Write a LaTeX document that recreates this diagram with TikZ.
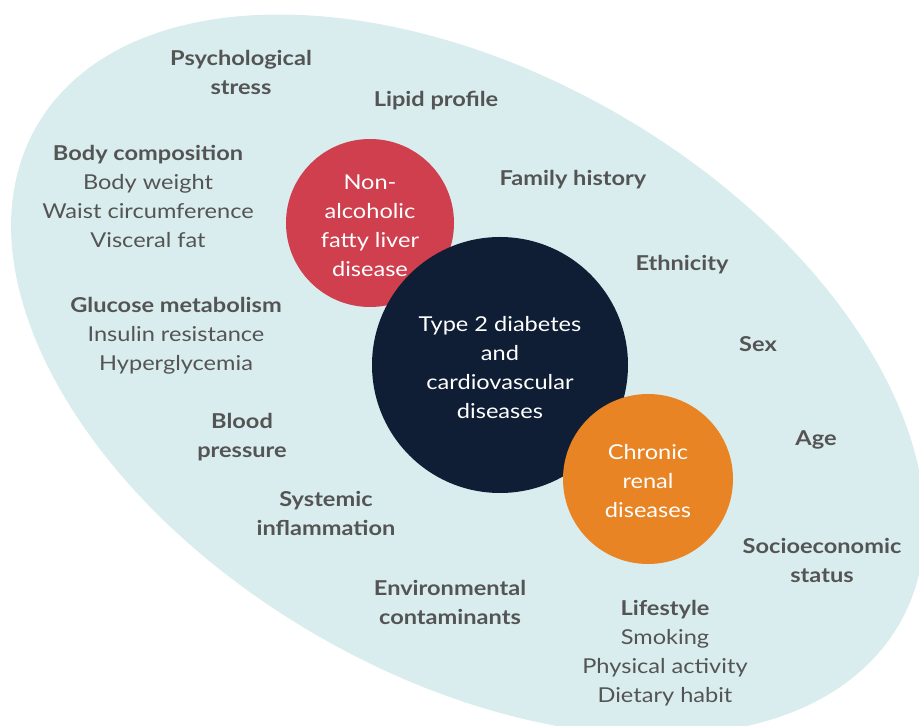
\documentclass[tikz,border=0pt]{standalone}
\usepackage{fontspec}
\setmainfont{Lato}[FakeStretch=1.15]
\definecolor{ellfill}{HTML}{D9EDEE}
\definecolor{redc}{HTML}{CF3F4E}
\definecolor{navyc}{HTML}{0F1E35}
\definecolor{orangec}{HTML}{E88424}
\definecolor{labgray}{HTML}{545454}
\begin{document}
\begin{tikzpicture}[x=1pt,y=1pt,
  lab/.style={align=center, text=labgray, inner sep=0pt, yshift=-2.5pt, font=\fontsize{20.5}{29}\selectfont},
  bubble/.style={circle, inner sep=0pt},
  btext/.style={align=center, text=white, inner sep=0pt, yshift=-2.5pt, font=\fontsize{20.5}{29}\selectfont}]
\useasboundingbox (0,0) rectangle (919,726);
\clip (0,0) rectangle (919,726);
\fill[ellfill, rotate around={-30:(468,351)}] (468,351) ellipse [x radius=498, y radius=301];
% circles
\node[bubble, fill=redc, minimum size=168pt] (nafld) at (370,503) {};
\node[btext] (nafldt) at (nafld.center) {Non-\\alcoholic\\fatty liver\\disease};
\node[bubble, fill=navyc, minimum size=256pt] (t2d) at (500,361) {};
\node[btext] (t2dt) at (t2d.center) {Type 2 diabetes\\and\\cardiovascular\\diseases};
\node[bubble, fill=orangec, minimum size=170pt] (ckd) at (648,247) {};
\node[btext] (ckdt) at (ckd.center) {Chronic\\renal\\diseases};
% labels
\node[lab] (psy) at (241,656.5) {\textbf{Psychological}\\\textbf{stress}};
\node[lab] (lip) at (436,628) {\textbf{Lipid profile}};
\node[lab] (body) at (148,532.5) {\textbf{Body composition}\\Body weight\\Waist circumference\\Visceral fat};
\node[lab] (fam) at (573,549) {\textbf{Family history}};
\node[lab] (eth) at (682,464) {\textbf{Ethnicity}};
\node[lab] (glu) at (176,392.5) {\textbf{Glucose metabolism}\\Insulin resistance\\Hyperglycemia};
\node[lab] (sex) at (758,384) {\textbf{Sex}};
\node[lab] (bp) at (242,291) {\textbf{Blood}\\\textbf{pressure}};
\node[lab] (age) at (816,289) {\textbf{Age}};
\node[lab] (inf) at (326,215.5) {\textbf{Systemic}\\\textbf{inflammation}};
\node[lab] (ses) at (822,168.5) {\textbf{Socioeconomic}\\\textbf{status}};
\node[lab] (env) at (450,126) {\textbf{Environmental}\\\textbf{contaminants}};
\node[lab] (life) at (665,75.5) {\textbf{Lifestyle}\\Smoking\\Physical activity\\Dietary habit};
\end{tikzpicture}
\end{document}
